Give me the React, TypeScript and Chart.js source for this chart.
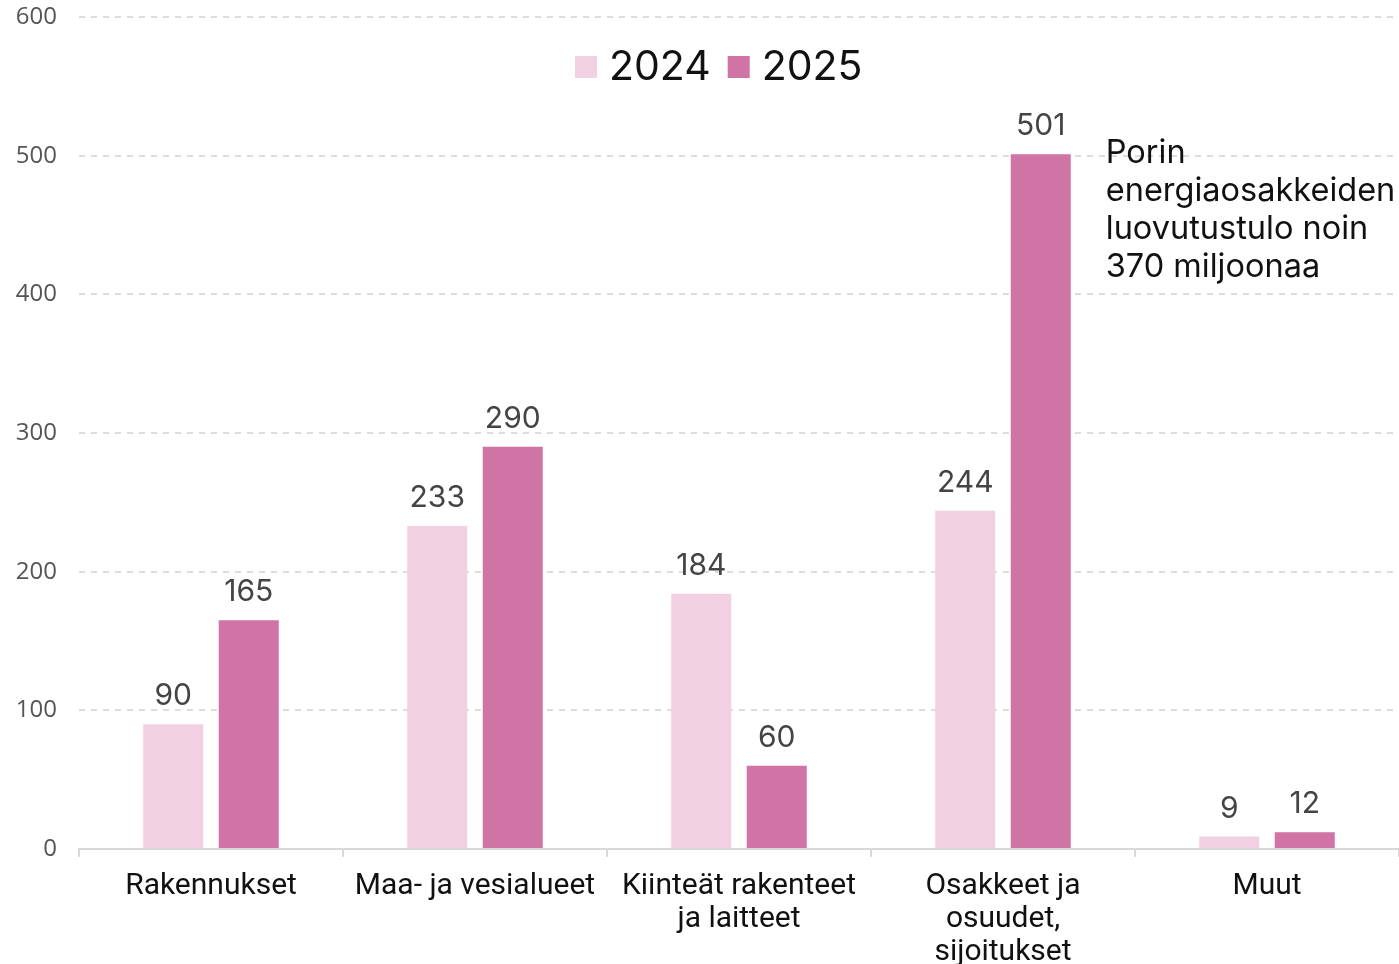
import React, { useEffect, useRef } from "react";
import { Chart, registerables } from "chart.js";

Chart.register(...registerables);

const categories: (string | string[])[] = [
  "Rakennukset",
  "Maa- ja vesialueet",
  ["Kiinteät rakenteet", "ja laitteet"],
  ["Osakkeet ja", "osuudet,", "sijoitukset"],
  "Muut",
];
const values2024 = [90, 233, 184, 244, 9];
const values2025 = [165, 290, 60, 501, 12];
const seriesNames = ["2024", "2025"];
const seriesColors = ["#f0d0e1", "#cf74a5"];
const annotationLines = [
  "Porin",
  "energiaosakkeiden",
  "luovutustulo noin",
  "370 miljoonaa",
];
const yTicks = [0, 100, 200, 300, 400, 500, 600];

const numFont = "Inter, 'Open Sans', sans-serif";

const overlayPlugin = {
  id: "overlay",
  afterDatasetsDraw(chart: any) {
    const ctx = chart.ctx;
    ctx.save();
    // data labels
    ctx.font = `30px ${numFont}`;
    ctx.fillStyle = "#444444";
    ctx.textAlign = "center";
    ctx.textBaseline = "alphabetic";
    chart.data.datasets.forEach((ds: any, di: number) => {
      const meta = chart.getDatasetMeta(di);
      meta.data.forEach((bar: any, i: number) => {
        ctx.fillText(String(ds.data[i]), bar.x, bar.y - 19);
      });
    });
    // legend
    const legendY = 67;
    ctx.font = `41px ${numFont}`;
    ctx.textAlign = "left";
    ctx.textBaseline = "middle";
    let x = 575;
    seriesNames.forEach((name, i) => {
      ctx.fillStyle = seriesColors[i];
      ctx.fillRect(x, legendY - 11, 22, 22);
      ctx.fillStyle = "#111111";
      ctx.fillText(name, x + 34, legendY + 1);
      x += 34 + ctx.measureText(name).width + 17;
    });
    // annotation
    const ys = chart.scales.y;
    const meta = chart.getDatasetMeta(1);
    const bar = meta.data[3];
    const ax = bar.x + bar.width / 2 + 35;
    ctx.font = `32.5px ${numFont}`;
    ctx.fillStyle = "#111111";
    ctx.textBaseline = "middle";
    annotationLines.forEach((line, i) => {
      ctx.fillText(line, ax, ys.getPixelForValue(500) - 2 + i * 38);
    });
    ctx.restore();
  },
};

export default function App() {
  const canvasRef = useRef<HTMLCanvasElement | null>(null);

  useEffect(() => {
    document.body.style.margin = "0";
    const canvas = canvasRef.current;
    if (!canvas) return;
    const chart = new Chart(canvas, {
      type: "bar",
      data: {
        labels: categories,
        datasets: [
          {
            label: seriesNames[0],
            data: values2024,
            backgroundColor: seriesColors[0],
            categoryPercentage: 0.572,
            barPercentage: 0.795,
          },
          {
            label: seriesNames[1],
            data: values2025,
            backgroundColor: seriesColors[1],
            categoryPercentage: 0.572,
            barPercentage: 0.795,
          },
        ],
      },
      options: {
        animation: false,
        responsive: false,
        maintainAspectRatio: false,
        layout: { padding: { top: 17, right: 0, left: 0, bottom: 0 } },
        plugins: {
          legend: { display: false },
          tooltip: { enabled: false },
        },
        scales: {
          x: {
            grid: {
              offset: true,
              drawOnChartArea: false,
              drawTicks: true,
              tickLength: 8,
              color: "#d9d9d9",
              lineWidth: 2,
            },
            border: { display: true, color: "#d9d9d9", width: 2 },
            ticks: {
              color: "#111111",
              padding: 13,
              maxRotation: 0,
              autoSkip: false,
              font: {
                family: "Roboto, sans-serif",
                size: 30,
                lineHeight: 1.1,
              },
            },
            afterFit(scale: any) {
              scale.height = 115;
            },
          },
          y: {
            min: 0,
            max: 600,
            afterBuildTicks(scale: any) {
              scale.ticks = yTicks.map((v) => ({ value: v }));
            },
            grid: {
              color: "#dddddd",
              lineWidth: 2,
              drawTicks: false,
            },
            border: { display: false, dash: [6, 6] },
            ticks: {
              color: "#555555",
              padding: 22,
              font: { family: "'Open Sans', sans-serif", size: 24 },
            },
            afterFit(scale: any) {
              scale.width = 79;
              scale.paddingTop = 0;
              scale.paddingBottom = 0;
            },
          },
        },
      },
      plugins: [overlayPlugin],
    });
    return () => chart.destroy();
  }, []);

  return (
    <div style={{ width: 1399, height: 964 }}>
      <canvas ref={canvasRef} width={1399} height={964} style={{ display: "block" }} />
    </div>
  );
}
